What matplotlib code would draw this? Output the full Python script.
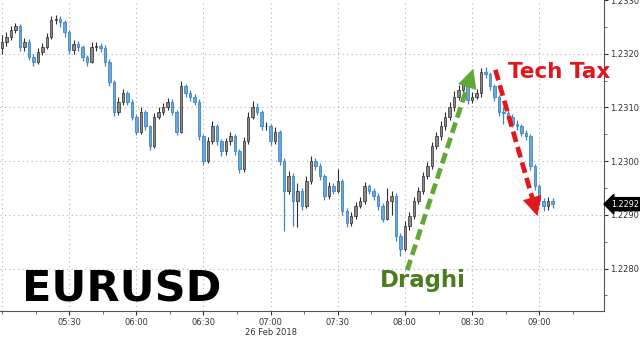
import matplotlib
matplotlib.use("Agg")
import matplotlib.pyplot as plt
import numpy as np
from matplotlib.ticker import MultipleLocator, FixedLocator

# 2-minute bars starting 05:00, 26 Feb 2018
bar_minutes = 2
first_open = 1.23210
closes = [
    1.23222, 1.23231, 1.23244, 1.23251, 1.23212, 1.23222, 1.23194, 1.23185, 1.23203, 1.23212,
    1.23231, 1.23262, 1.23264, 1.23259, 1.23240, 1.23207, 1.23218, 1.23212, 1.23194, 1.23185,
    1.23212, 1.23214, 1.23211, 1.23185, 1.23148, 1.23092, 1.23111, 1.23126, 1.23111, 1.23083,
    1.23055, 1.23092, 1.23065, 1.23028, 1.23083, 1.23092, 1.23101, 1.23111, 1.23092, 1.23055,
    1.23139, 1.23126, 1.23120, 1.23111, 1.23046, 1.23000, 1.23037, 1.23065, 1.23037, 1.23018,
    1.23037, 1.23046, 1.23018, 1.22985, 1.23037, 1.23083, 1.23101, 1.23092, 1.23065, 1.23065,
    1.23037, 1.23055, 1.23000, 1.22944, 1.22972, 1.22926, 1.22944, 1.22917, 1.22963, 1.23000,
    1.22991, 1.22972, 1.22935, 1.22954, 1.22944, 1.22963, 1.22907, 1.22885, 1.22898, 1.22917,
    1.22926, 1.22954, 1.22944, 1.22935, 1.22917, 1.22893, 1.22926, 1.22935, 1.22861, 1.22837,
    1.22879, 1.22898, 1.22926, 1.22944, 1.22972, 1.22991, 1.23028, 1.23046, 1.23065, 1.23083,
    1.23101, 1.23120, 1.23133, 1.23144, 1.23114, 1.23120, 1.23126, 1.23166, 1.23162, 1.23139,
    1.23120, 1.23092, 1.23089, 1.23083, 1.23070, 1.23065, 1.23052, 1.23046, 1.22991, 1.22954,
    1.22926, 1.22917, 1.22926, 1.22920,
]
highs = [
    1.23235, 1.23240, 1.23252, 1.23258, 1.23255, 1.23230, 1.23228, 1.23200, 1.23210, 1.23220,
    1.23238, 1.23270, 1.23272, 1.23270, 1.23262, 1.23245, 1.23226, 1.23224, 1.23216, 1.23198,
    1.23222, 1.23222, 1.23220, 1.23216, 1.23190, 1.23152, 1.23120, 1.23135, 1.23130, 1.23115,
    1.23088, 1.23100, 1.23096, 1.23068, 1.23090, 1.23100, 1.23108, 1.23118, 1.23115, 1.23096,
    1.23150, 1.23144, 1.23132, 1.23125, 1.23115, 1.23050, 1.23045, 1.23074, 1.23070, 1.23042,
    1.23044, 1.23054, 1.23050, 1.23022, 1.23045, 1.23092, 1.23112, 1.23108, 1.23096, 1.23072,
    1.23070, 1.23064, 1.23058, 1.23005, 1.22982, 1.22978, 1.22960, 1.22950, 1.22972, 1.23010,
    1.23006, 1.22996, 1.22976, 1.22962, 1.22960, 1.22985, 1.22966, 1.22912, 1.22906, 1.22924,
    1.22934, 1.22962, 1.22958, 1.22950, 1.22940, 1.22922, 1.22950, 1.22945, 1.22940, 1.22866,
    1.22888, 1.22906, 1.22934, 1.22952, 1.22980, 1.22998, 1.23036, 1.23054, 1.23074, 1.23092,
    1.23110, 1.23130, 1.23142, 1.23152, 1.23148, 1.23128, 1.23134, 1.23174, 1.23176, 1.23166,
    1.23144, 1.23124, 1.23100, 1.23096, 1.23088, 1.23076, 1.23070, 1.23058, 1.23050, 1.22995,
    1.22958, 1.22932, 1.22934, 1.22932,
]
lows = [
    1.23200, 1.23215, 1.23225, 1.23238, 1.23205, 1.23205, 1.23188, 1.23178, 1.23180, 1.23198,
    1.23208, 1.23228, 1.23255, 1.23250, 1.23232, 1.23200, 1.23200, 1.23205, 1.23186, 1.23178,
    1.23182, 1.23205, 1.23203, 1.23178, 1.23140, 1.23085, 1.23086, 1.23105, 1.23104, 1.23076,
    1.23048, 1.23050, 1.23058, 1.23020, 1.23024, 1.23078, 1.23086, 1.23096, 1.23086, 1.23048,
    1.23052, 1.23120, 1.23112, 1.23104, 1.23040, 1.22992, 1.22996, 1.23032, 1.23030, 1.23010,
    1.23012, 1.23030, 1.23012, 1.22978, 1.22980, 1.23032, 1.23078, 1.23086, 1.23058, 1.23058,
    1.23030, 1.23032, 1.22992, 1.22870, 1.22938, 1.22880, 1.22878, 1.22910, 1.22912, 1.22958,
    1.22984, 1.22965, 1.22928, 1.22930, 1.22938, 1.22940, 1.22900, 1.22878, 1.22880, 1.22892,
    1.22912, 1.22920, 1.22938, 1.22928, 1.22910, 1.22886, 1.22890, 1.22900, 1.22852, 1.22824,
    1.22832, 1.22872, 1.22892, 1.22920, 1.22938, 1.22966, 1.22986, 1.23022, 1.23040, 1.23058,
    1.23076, 1.23094, 1.23114, 1.23126, 1.23106, 1.23108, 1.23115, 1.23120, 1.23155, 1.23132,
    1.23112, 1.23085, 1.23070, 1.23076, 1.23064, 1.23058, 1.23046, 1.23040, 1.22984, 1.22946,
    1.22918, 1.22908, 1.22910, 1.22912,
]
last_price = 1.2292

tick_minutes = [30, 60, 90, 120, 150, 180, 210, 240]
tick_labels = ["05:30", "06:00", "06:30", "07:00", "07:30", "08:00", "08:30", "09:00"]
date_label = "26 Feb 2018"

# arrow ends (minutes after 05:00, price)
draghi_arrow = [(181, 1.22797), (210.5, 1.23172)]
tax_arrow = [(220.4, 1.2317), (239.2, 1.22898)]

up_color = "#8a8a8a"
up_edge = "#2e2e2e"
down_color = "#3f86c8"
green = "#62a834"
green_text = "#4a7d20"
red = "#e3161b"

opens = [first_open] + closes[:-1]
t = np.arange(len(closes)) * bar_minutes
o = np.array(opens)
c = np.array(closes)
hi = np.array(highs)
lo = np.array(lows)
up = c >= o

fig = plt.figure(figsize=(6.4, 3.37), dpi=100)
ax = fig.add_axes([0.0, 0.077, 0.944, 0.923])

# grid
grid_kw = dict(color="#b0b0b0", lw=0.8, ls=(0, (1, 3)), zorder=0)
for gx in [0] + tick_minutes:
    ax.axvline(gx, **grid_kw)
for gy in [1.2280, 1.2290, 1.2300, 1.2310, 1.2320]:
    ax.axhline(gy, **grid_kw)

# candles
ax.vlines(t[up], lo[up], hi[up], color=up_edge, lw=0.8, zorder=2)
ax.vlines(t[~up], lo[~up], hi[~up], color=down_color, lw=0.9, zorder=2)
body_w = 1.1
ax.bar(t[up], c[up] - o[up], bottom=o[up], width=body_w, color=up_color,
       edgecolor=up_edge, linewidth=0.5, zorder=3)
ax.bar(t[~up], c[~up] - o[~up], bottom=o[~up], width=body_w, color="#6fa6da",
       edgecolor=down_color, linewidth=0.6, zorder=3)


def dashed_arrow(start, tip, color):
    sx, sy = start
    tx, ty = tip
    # line stops where the solid head begins
    hx = tx - 0.08 * (tx - sx)
    hy = ty - 0.08 * (ty - sy)
    ax.plot([sx, hx], [sy, hy], color=color, lw=3.4, ls=(0, (2.3, 1.1)),
            solid_capstyle="butt", dash_capstyle="butt", zorder=5)
    ax.annotate("", xy=(tx, ty), xytext=(hx, hy),
                arrowprops=dict(arrowstyle="-|>,head_length=1.0,head_width=0.5",
                                color=color, lw=0.5, shrinkA=0, shrinkB=0,
                                mutation_scale=13),
                zorder=5)


dashed_arrow(draghi_arrow[0], draghi_arrow[1], green)
dashed_arrow(tax_arrow[0], tax_arrow[1], red)

# labels
ax.text(169, 1.22765, "Draghi", color=green_text, fontsize=16.5, fontweight="bold",
        va="baseline", ha="left", zorder=6)
ax.text(226.2, 1.23155, "Tech Tax", color=red, fontsize=15.5, fontweight="bold",
        va="baseline", ha="left", zorder=6, clip_on=False)
ax.text(0.036, 0.032, "EURUSD", transform=ax.transAxes, color="black", fontsize=31,
        fontweight="bold", va="baseline", ha="left", zorder=6)

ax.set_xlim(-0.9, 269)
ax.set_ylim(1.22721, 1.23300)

# axes styling
for side in ["left", "top"]:
    ax.spines[side].set_visible(False)
ax.spines["right"].set_color("#555555")
ax.spines["bottom"].set_color("#555555")
ax.yaxis.tick_right()
ax.yaxis.set_major_locator(MultipleLocator(0.001))
ax.yaxis.set_minor_locator(MultipleLocator(0.0005))
ax.yaxis.set_major_formatter(plt.FuncFormatter(lambda v, p: f"{v:.4f}"))
ax.xaxis.set_major_locator(FixedLocator(tick_minutes))
ax.xaxis.set_minor_locator(MultipleLocator(15))
ax.set_xticklabels(tick_labels)
ax.tick_params(axis="both", which="major", labelsize=6, colors="#333333", length=3, width=0.8)
ax.tick_params(axis="both", which="minor", length=2.5, width=0.6, colors="#555555")
ax.tick_params(axis="y", pad=1)
ax.tick_params(axis="x", pad=2)

ax.text(120, -0.055, date_label, transform=ax.get_xaxis_transform(), ha="center", va="top",
        fontsize=6, color="#333333", clip_on=False)

# last price tag
ax.annotate(f"{last_price:.4f}", xy=(1.0, last_price), xycoords=("axes fraction", "data"),
            xytext=(5, 0), textcoords="offset points", ha="left", va="center",
            fontsize=5.8, color="white", annotation_clip=False,
            bbox=dict(boxstyle="larrow,pad=0.25", fc="black", ec="black"))

fig.savefig("out.png", dpi=100)
